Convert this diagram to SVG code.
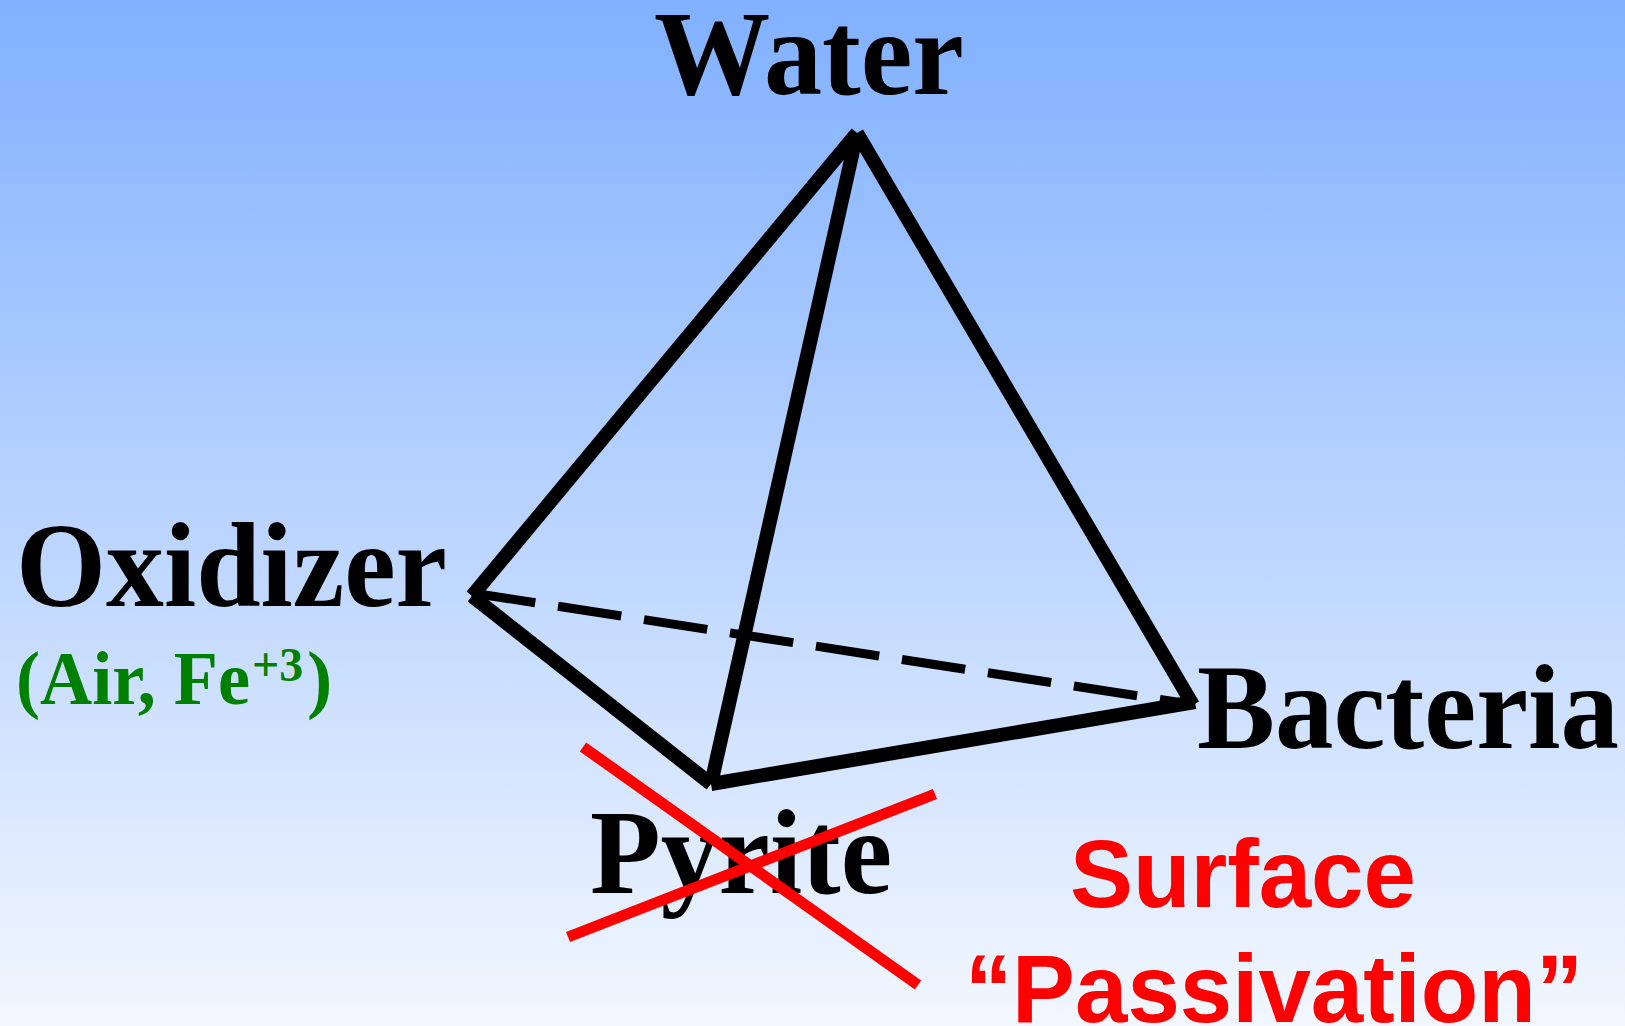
<svg xmlns="http://www.w3.org/2000/svg" width="1625" height="1026" viewBox="0 0 1625 1026">
<defs>
<linearGradient id="bg" x1="0" y1="0" x2="0" y2="1">
<stop offset="0" stop-color="#80B0FF"/>
<stop offset="1" stop-color="#F2F7FF"/>
</linearGradient>
<style>
.lbl{font-family:"Liberation Serif","Times New Roman",serif;font-weight:bold;fill:#000;}
.big{font-size:120px;}
.green{font-family:"Liberation Serif","Times New Roman",serif;font-weight:bold;fill:#008000;}
.red{font-family:"Liberation Sans",Arial,sans-serif;font-weight:bold;fill:#FF0000;font-size:97px;}
.edge{stroke:#000;stroke-width:14;fill:none;stroke-linecap:butt;}
.dash{stroke:#000;stroke-width:9;fill:none;stroke-dasharray:64 23;}
.cross{stroke:#FF0000;stroke-width:11;fill:none;}
</style>
</defs>
<rect x="0" y="0" width="1625" height="1026" fill="url(#bg)"/>
<g id="connectors">
<line class="dash" x1="472" y1="593" x2="1190" y2="704"/>
<line class="edge" x1="857" y1="133" x2="472" y2="596"/>
<line class="edge" x1="857" y1="133" x2="711" y2="784"/>
<line class="edge" x1="857" y1="133" x2="1193" y2="705"/>
<line class="edge" x1="472" y1="596" x2="711" y2="784"/>
<line class="edge" x1="711" y1="784" x2="1195" y2="702"/>
</g>
<g id="water"><text class="lbl big" x="654" y="94" textLength="310" lengthAdjust="spacingAndGlyphs">Water</text></g>
<g id="oxidizer">
<text class="lbl big" x="16" y="606" textLength="431" lengthAdjust="spacingAndGlyphs">Oxidizer</text>
<text class="green" font-size="76" y="704"><tspan x="16" textLength="234" lengthAdjust="spacingAndGlyphs">(Air, Fe</tspan><tspan x="252" y="681" font-size="48">+3</tspan><tspan x="307" y="704">)</tspan></text>
</g>
<g id="pyrite">
<text class="lbl big" x="590" y="893" textLength="302" lengthAdjust="spacingAndGlyphs">Pyrite</text>
<line class="cross" x1="583" y1="747" x2="918" y2="985"/>
<line class="cross" x1="568" y1="937" x2="935" y2="794"/>
</g>
<g id="bacteria"><text class="lbl big" x="1197" y="748" textLength="422" lengthAdjust="spacingAndGlyphs">Bacteria</text></g>
<g id="passivation">
<text class="red" x="1070" y="907" textLength="346" lengthAdjust="spacingAndGlyphs">Surface</text>
<text class="red" x="965" y="1022" textLength="618" lengthAdjust="spacingAndGlyphs">“Passivation”</text>
</g>
</svg>
